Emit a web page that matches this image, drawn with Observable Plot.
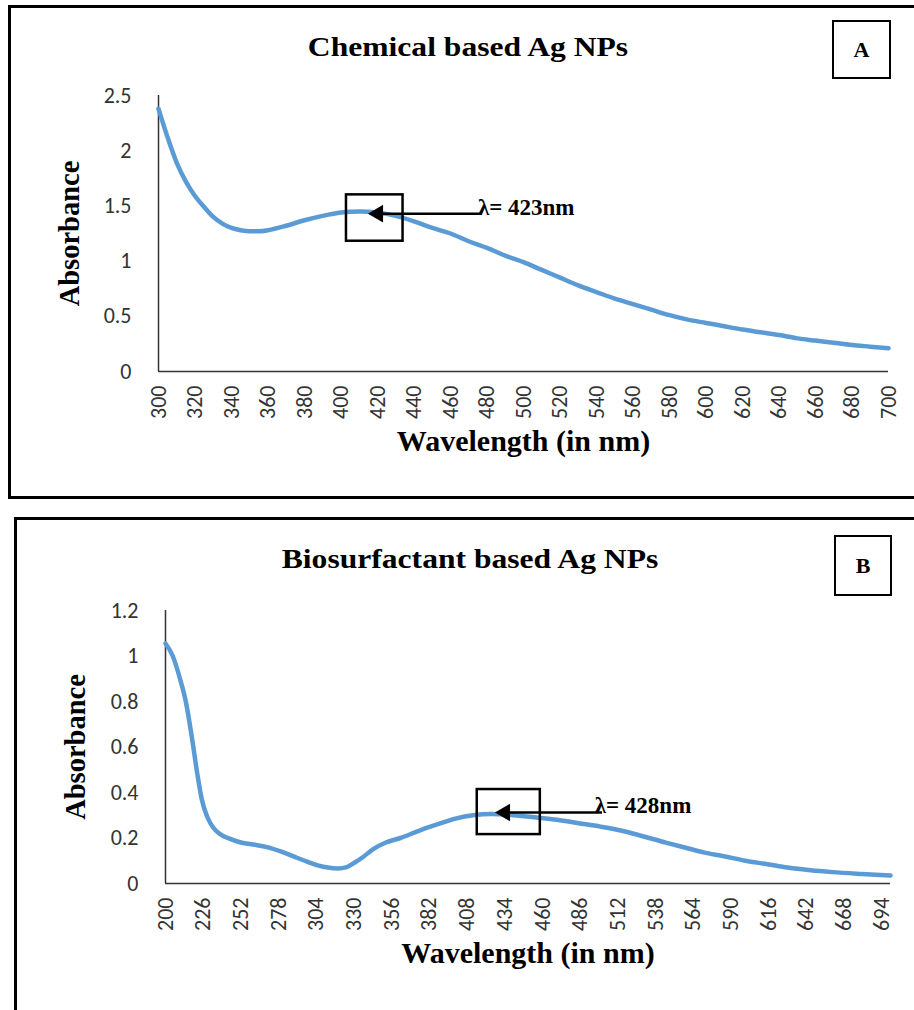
<!DOCTYPE html>
<html>
<head>
<meta charset="utf-8">
<script src="https://cdn.jsdelivr.net/npm/d3@7"></script>
<script src="https://cdn.jsdelivr.net/npm/@observablehq/plot@0.6"></script>
<style>
  html, body { margin: 0; padding: 0; background: #fff; }
  body { width: 914px; height: 1010px; overflow: hidden; position: relative; }
  .panel { position: absolute; border: 2.5px solid #000; box-sizing: border-box; z-index: 2; pointer-events: none; }
  .tag { position: absolute; border: 2px solid #000; box-sizing: border-box; display: flex; align-items: center; justify-content: center;
         font-family: "Liberation Serif", "Times New Roman", serif; font-weight: bold; font-size: 22px; color: #000; z-index: 3; background: #fff; }
  .title { position: absolute; transform: translate(-50%, -50%) scaleX(1.17); white-space: nowrap;
           font-family: "Liberation Serif", "Times New Roman", serif; font-weight: bold; font-size: 27px; color: #000; z-index: 3; }
  .chart { position: absolute; left: 0; z-index: 1; }
</style>
</head>
<body>
<div class="panel" style="left:8px; top:5px; width:1000px; height:494px; border-width:3px;"></div>
<div class="title" style="left:468px; top:47px;">Chemical based Ag NPs</div>
<div class="tag" style="left:832px; top:20px; width:59px; height:59px;">A</div>

<div class="panel" style="left:14px; top:517px; width:1000px; height:600px; border-width:3px;"></div>
<div class="title" style="left:470px; top:559px;">Biosurfactant based Ag NPs</div>
<div class="tag" style="left:834px; top:535px; width:58px; height:61px;">B</div>

<div id="chartA" class="chart" style="top:0px;"></div>
<div id="chartB" class="chart" style="top:500px;"></div>

<script>
// ---------- Data: Chemical based Ag NPs (panel A) ----------
const chemWavelength = [300, 305, 310, 315, 320, 325, 330, 335, 340, 345, 350, 355, 360, 370, 380, 390, 400, 410, 420, 430, 440, 450, 460, 470, 480, 490, 500, 510, 520, 530, 540, 550, 560, 570, 580, 590, 600, 610, 620, 630, 640, 650, 660, 670, 680, 690, 700];
const chemAbsorbance = [2.38, 2.12, 1.89, 1.72, 1.59, 1.49, 1.40, 1.34, 1.30, 1.28, 1.27, 1.27, 1.28, 1.32, 1.37, 1.41, 1.44, 1.45, 1.44, 1.41, 1.36, 1.30, 1.25, 1.18, 1.12, 1.05, 0.99, 0.92, 0.85, 0.78, 0.72, 0.66, 0.61, 0.56, 0.51, 0.47, 0.44, 0.41, 0.38, 0.355, 0.33, 0.30, 0.28, 0.26, 0.24, 0.225, 0.21];
const chemXTicks = [300, 320, 340, 360, 380, 400, 420, 440, 460, 480, 500, 520, 540, 560, 580, 600, 620, 640, 660, 680, 700];
const chemYTicks = [0, 0.5, 1, 1.5, 2, 2.5];
const chemPeakLabel = "λ= 423nm";

// ---------- Data: Biosurfactant based Ag NPs (panel B) ----------
const bioWavelength = [200, 205, 210, 214, 218, 222, 225, 229, 233, 237, 245, 252, 262, 270, 280, 288, 296, 305, 312, 319, 325, 330, 337, 343, 352, 362, 376, 390, 400, 412, 425, 440, 456, 470, 485, 500, 514, 528, 545, 560, 571, 585, 600, 615, 629, 645, 660, 680, 700];
const bioAbsorbance = [1.055, 1.00, 0.90, 0.80, 0.65, 0.48, 0.37, 0.29, 0.245, 0.22, 0.195, 0.18, 0.17, 0.16, 0.14, 0.12, 0.10, 0.08, 0.07, 0.066, 0.072, 0.09, 0.12, 0.15, 0.18, 0.20, 0.235, 0.265, 0.285, 0.30, 0.305, 0.30, 0.29, 0.28, 0.265, 0.25, 0.233, 0.21, 0.18, 0.155, 0.137, 0.12, 0.10, 0.085, 0.07, 0.058, 0.05, 0.042, 0.035];
const bioXTicks = [200, 226, 252, 278, 304, 330, 356, 382, 408, 434, 460, 486, 512, 538, 564, 590, 616, 642, 668, 694];
const bioYTicks = [0, 0.2, 0.4, 0.6, 0.8, 1, 1.2];
const bioPeakLabel = "λ= 428nm";

// ---------- Annotation anchors (data coordinates) ----------
const chemBox = {x1: 403, x2: 434, y1: 1.18, y2: 1.60};
const chemArrow = {from: 477, to: 417, y: 1.43};
const chemText = {x: 475, y: 1.485};
const bioBox = {x1: 415, x2: 458.5, y1: 0.215, y2: 0.413};
const bioArrow = {from: 501, to: 430, y: 0.312};
const bioText = {x: 496, y: 0.343};

const axisColor = "#333333";
const lineColor = "#5B9BD5";
const serif = "Liberation Serif, Times New Roman, serif";

function panel({wl, ab, xDomain, xTicks, yDomain, yTicks, box, arrow, text, label, height, ml, mr, mt, mb, ytitleDx, xtitleDy}) {
  const rows = wl.map((w, i) => ({w, a: ab[i]}));
  return Plot.plot({
    width: 914,
    height,
    marginLeft: ml, marginRight: mr, marginTop: mt, marginBottom: mb,
    style: {fontFamily: "Carlito, Lato, sans-serif", fontSize: "22px", color: axisColor, background: "transparent", overflow: "visible"},
    x: {domain: xDomain, ticks: xTicks, tickSize: 0, tickPadding: 14, tickRotate: -90, label: null, tickFormat: d => String(d)},
    y: {domain: yDomain, ticks: yTicks, tickSize: 0, tickPadding: 27, label: null, tickFormat: d => String(d)},
    marks: [
      Plot.ruleX([xDomain[0]], {stroke: axisColor, strokeWidth: 1.5}),
      Plot.ruleY([0], {stroke: axisColor, strokeWidth: 1.5}),
      Plot.line(rows, {x: "w", y: "a", stroke: lineColor, strokeWidth: 4.5, curve: "monotone-x"}),
      Plot.rect([box], {x1: "x1", x2: "x2", y1: "y1", y2: "y2", fill: "none", stroke: "black", strokeWidth: 2.5}),
      Plot.link([arrow], {x1: "from", x2: "to", y1: "y", y2: "y", stroke: "black", strokeWidth: 2.5}),
      Plot.dot([arrow], {x: "to", y: "y", symbol: "triangle", rotate: -90, r: 6.5, fill: "black", stroke: "none", dx: 6}),
      Plot.text([text], {x: "x", y: "y", text: () => label, textAnchor: "start", fontFamily: serif, fontWeight: "bold", fontSize: 23, fill: "black"}),
      Plot.text(["Absorbance"], {frameAnchor: "left", textAnchor: "middle", dx: ytitleDx, rotate: -90, fontFamily: serif, fontWeight: "bold", fontSize: 28.5, fill: "black"}),
      Plot.text(["Wavelength (in nm)"], {frameAnchor: "bottom", textAnchor: "middle", dy: xtitleDy, fontFamily: serif, fontWeight: "bold", fontSize: 30, fill: "black"})
    ]
  });
}

document.getElementById("chartA").append(panel({
  wl: chemWavelength, ab: chemAbsorbance, xDomain: [300, 700], xTicks: chemXTicks, yDomain: [0, 2.5], yTicks: chemYTicks,
  box: chemBox, arrow: chemArrow, text: chemText, label: chemPeakLabel,
  height: 500, ml: 158, mr: 26, mt: 95, mb: 129, ytitleDx: -89, xtitleDy: 79
}));

document.getElementById("chartB").append(panel({
  wl: bioWavelength, ab: bioAbsorbance, xDomain: [200, 700], xTicks: bioXTicks, yDomain: [0, 1.2], yTicks: bioYTicks,
  box: bioBox, arrow: bioArrow, text: bioText, label: bioPeakLabel,
  height: 510, ml: 165, mr: 24, mt: 110, mb: 127, ytitleDx: -90, xtitleDy: 79
}));
</script>
</body>
</html>
